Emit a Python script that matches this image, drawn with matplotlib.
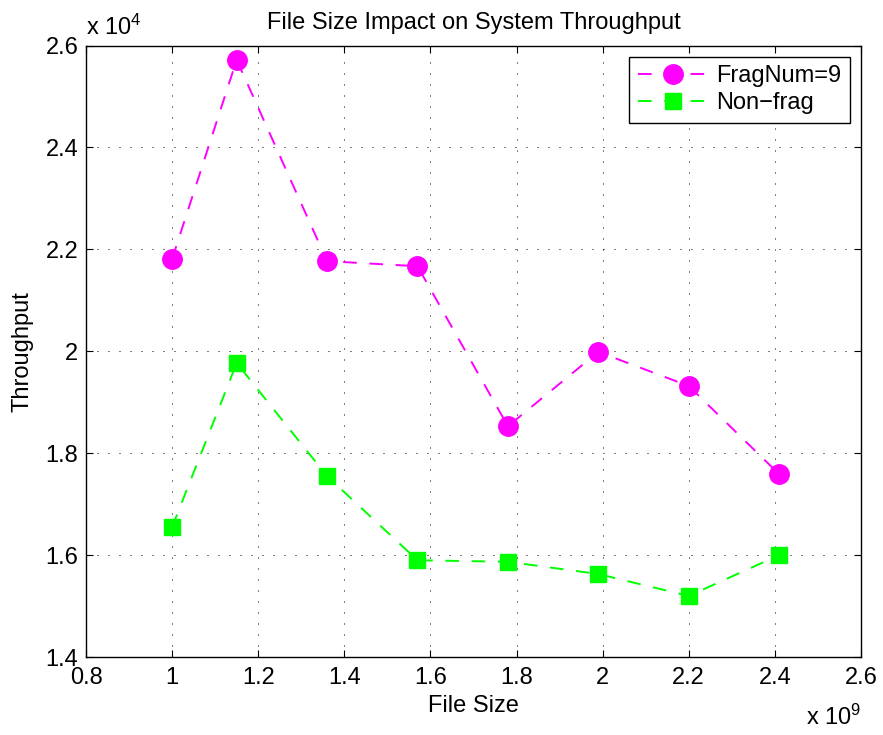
import matplotlib
matplotlib.use('Agg')
import matplotlib.pyplot as plt

plt.rcParams['font.family'] = ['Liberation Sans', 'DejaVu Sans']
plt.rcParams['mathtext.default'] = 'regular'

# file size in units of 1e9, throughput in units of 1e4
file_size = [1.0, 1.15, 1.36, 1.57, 1.78, 1.99, 2.20, 2.41]
frag9 = [2.181, 2.572, 2.177, 2.167, 1.853, 1.999, 1.932, 1.759]
nonfrag = [1.655, 1.977, 1.755, 1.590, 1.587, 1.563, 1.520, 1.600]

xticks = [0.8, 1, 1.2, 1.4, 1.6, 1.8, 2, 2.2, 2.4, 2.6]
xticklabels = ['0.8', '1', '1.2', '1.4', '1.6', '1.8', '2', '2.2', '2.4', '2.6']
yticks = [1.4, 1.6, 1.8, 2.0, 2.2, 2.4, 2.6]
yticklabels = ['1.4', '1.6', '1.8', '2', '2.2', '2.4', '2.6']

fig = plt.figure(figsize=(8.83, 7.35), dpi=100)
ax = fig.add_axes([0.0974, 0.106, 0.8776, 0.832])

ax.plot(file_size, frag9, linestyle='--', dashes=(7, 6.5), color='#ff00ff', lw=1.4,
        marker='o', markersize=14, markerfacecolor='#ff00ff', markeredgecolor='#ff00ff',
        label='FragNum=9')
ax.plot(file_size, nonfrag, linestyle='--', dashes=(7, 6.5), color='#00ff00', lw=1.4,
        marker='s', markersize=11.5, markerfacecolor='#00ff00', markeredgecolor='#00ff00',
        label='Non\u2212frag')

ax.set_xlim(0.8, 2.6)
ax.set_ylim(1.4, 2.6)
ax.set_xticks(xticks)
ax.set_xticklabels(xticklabels)
ax.set_yticks(yticks)
ax.set_yticklabels(yticklabels)
ax.tick_params(direction='in', top=True, right=True, labelsize=17, length=5)
ax.tick_params(axis='x', pad=7)
ax.tick_params(axis='y', pad=5.5)
ax.grid(True, linestyle=(0, (1, 10)), color='black', lw=0.72)
for s in ax.spines.values():
    s.set_linewidth(1.0)

ax.set_title('File Size Impact on System Throughput', fontsize=17, pad=12)
ax.set_xlabel('File Size', fontsize=17)
ax.set_ylabel('Throughput', fontsize=17)
ax.xaxis.set_label_coords(0.5, -0.062)
ax.yaxis.set_label_coords(-0.068, 0.5)

ax.text(0.0, 1.017, r'x 10$^4$', transform=ax.transAxes, fontsize=17, ha='left', va='baseline')
ax.text(1.0, -0.111, r'x 10$^9$', transform=ax.transAxes, fontsize=17, ha='right', va='baseline')

leg = ax.legend(loc='upper right', fontsize=17, handlelength=3.0, borderpad=0.35,
                labelspacing=0.23, handletextpad=0.34, borderaxespad=0.47, fancybox=False,
                framealpha=1)
leg.get_frame().set_edgecolor('black')
leg.get_frame().set_linewidth(1.0)

fig.savefig('out.png', dpi=100)
